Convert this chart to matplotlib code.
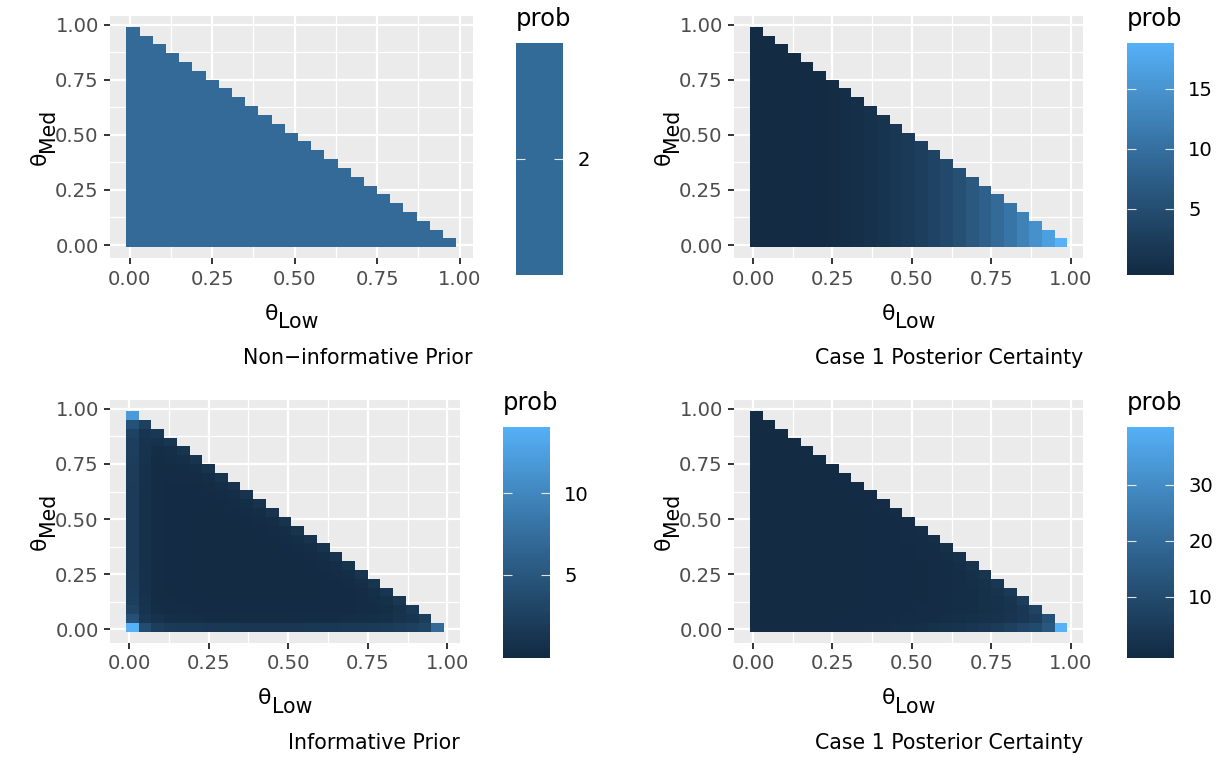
import numpy as np
import matplotlib
matplotlib.use("Agg")
import matplotlib.pyplot as plt
from matplotlib.colors import ListedColormap, Normalize

W, H, DPI = 1223, 758, 100

# ---------------- data ----------------
theta_values = [0.01, 0.05, 0.09, 0.13, 0.17, 0.21, 0.25, 0.29, 0.33, 0.37, 0.41, 0.45, 0.49,
                0.53, 0.57, 0.61, 0.65, 0.69, 0.73, 0.77, 0.81, 0.85, 0.89, 0.93, 0.97]
axis_ticks = [0.0, 0.25, 0.5, 0.75, 1.0]
axis_tick_labels = ["0.00", "0.25", "0.50", "0.75", "1.00"]
axis_minor = [0.125, 0.375, 0.625, 0.875]

# panel 1: flat prior density (same in every cell)
noninf_prior_density = 2.0

# panel 2: posterior, value per theta_Low column (constant along theta_Med)
noninf_post_by_low = [0.0, 0.0, 0.0, 0.0, 0.1, 0.2, 0.3, 0.5, 0.7, 1.0, 1.4, 1.8, 2.4,
                      3.0, 3.7, 4.5, 5.5, 6.6, 7.8, 9.1, 10.6, 12.3, 14.1, 16.1, 18.3]

# panel 3: informative prior, one list per theta_Low column, theta_Med from bottom up
info_prior_cols = [
    [13.7, 4.4, 2.9, 2.5, 2.3, 2.2, 2.2, 2.1, 2.1, 2.1, 2.1, 2.1, 2.1, 2.1, 2.1, 2.1, 2.1, 2.2, 2.2, 2.3, 2.4, 2.5, 2.8, 4.4, 11.5],
    [3.9, 1.6, 1.2, 1.1, 1.0, 1.0, 0.95, 0.95, 0.9, 0.9, 0.9, 0.9, 0.9, 0.9, 0.9, 0.95, 0.95, 1.0, 1.0, 1.05, 1.1, 1.2, 1.4, 2.6],
    [2.3, 1.1, 0.6, 0.55, 0.5, 0.5, 0.45, 0.45, 0.45, 0.45, 0.45, 0.45, 0.45, 0.45, 0.45, 0.45, 0.5, 0.5, 0.5, 0.55, 0.6, 1.0, 1.7],
    [2.0, 0.75, 0.5, 0.45, 0.4, 0.4, 0.35, 0.35, 0.35, 0.35, 0.35, 0.35, 0.35, 0.35, 0.4, 0.4, 0.4, 0.45, 0.5, 0.6, 0.75, 1.5],
    [1.9, 0.65, 0.45, 0.4, 0.35, 0.35, 0.3, 0.3, 0.3, 0.3, 0.3, 0.3, 0.3, 0.35, 0.35, 0.35, 0.4, 0.45, 0.55, 0.7, 1.4],
    [1.8, 0.6, 0.4, 0.35, 0.3, 0.3, 0.3, 0.25, 0.25, 0.25, 0.25, 0.3, 0.3, 0.3, 0.3, 0.35, 0.4, 0.5, 0.65, 1.3],
    [1.75, 0.55, 0.35, 0.3, 0.3, 0.25, 0.25, 0.25, 0.25, 0.25, 0.25, 0.25, 0.3, 0.3, 0.35, 0.4, 0.5, 0.6, 1.3],
    [1.7, 0.55, 0.35, 0.3, 0.25, 0.25, 0.25, 0.25, 0.25, 0.25, 0.25, 0.25, 0.3, 0.3, 0.35, 0.45, 0.6, 1.25],
    [1.7, 0.5, 0.35, 0.3, 0.25, 0.25, 0.25, 0.25, 0.25, 0.25, 0.25, 0.3, 0.3, 0.35, 0.45, 0.6, 1.2],
    [1.65, 0.5, 0.35, 0.3, 0.25, 0.25, 0.25, 0.25, 0.25, 0.25, 0.3, 0.3, 0.35, 0.45, 0.6, 1.2],
    [1.65, 0.5, 0.35, 0.3, 0.25, 0.25, 0.25, 0.25, 0.25, 0.3, 0.3, 0.35, 0.45, 0.6, 1.2],
    [1.65, 0.5, 0.35, 0.3, 0.25, 0.25, 0.25, 0.25, 0.3, 0.3, 0.35, 0.45, 0.6, 1.2],
    [1.65, 0.5, 0.35, 0.3, 0.3, 0.25, 0.25, 0.3, 0.3, 0.35, 0.45, 0.6, 1.2],
    [1.65, 0.5, 0.35, 0.3, 0.3, 0.3, 0.3, 0.3, 0.35, 0.45, 0.6, 1.2],
    [1.7, 0.55, 0.35, 0.3, 0.3, 0.3, 0.3, 0.35, 0.45, 0.6, 1.2],
    [1.7, 0.55, 0.4, 0.35, 0.3, 0.3, 0.35, 0.45, 0.6, 1.25],
    [1.75, 0.55, 0.4, 0.35, 0.35, 0.4, 0.45, 0.6, 1.25],
    [1.8, 0.6, 0.4, 0.4, 0.4, 0.5, 0.65, 1.3],
    [1.85, 0.65, 0.45, 0.45, 0.5, 0.7, 1.35],
    [1.95, 0.7, 0.55, 0.6, 0.75, 1.4],
    [2.1, 0.8, 0.65, 0.8, 1.5],
    [2.3, 1.15, 1.1, 1.65],
    [2.6, 1.4, 1.9],
    [3.0, 2.3],
    [7.0],
]

# panel 4: posterior with informative prior, same layout as panel 3
info_post_cols = [
    [0.0, 0.0, 0.0, 0.0, 0.0, 0.0, 0.0, 0.0, 0.0, 0.0, 0.0, 0.0, 0.0, 0.0, 0.0, 0.0, 0.0, 0.0, 0.0, 0.0, 0.0, 0.0, 0.0, 0.0, 0.0],
    [0.003, 0.001, 0.001, 0.001, 0.001, 0.001, 0.001, 0.001, 0.001, 0.001, 0.001, 0.001, 0.001, 0.001, 0.001, 0.001, 0.001, 0.001, 0.001, 0.001, 0.001, 0.001, 0.001, 0.002],
    [0.010, 0.005, 0.004, 0.003, 0.003, 0.003, 0.003, 0.003, 0.003, 0.003, 0.003, 0.003, 0.003, 0.003, 0.003, 0.003, 0.003, 0.003, 0.003, 0.003, 0.004, 0.005, 0.008],
    [0.027, 0.013, 0.010, 0.009, 0.008, 0.008, 0.007, 0.007, 0.007, 0.007, 0.007, 0.007, 0.007, 0.007, 0.008, 0.008, 0.008, 0.009, 0.010, 0.011, 0.013, 0.020],
    [0.057, 0.026, 0.020, 0.018, 0.017, 0.017, 0.015, 0.015, 0.015, 0.015, 0.015, 0.015, 0.015, 0.017, 0.017, 0.017, 0.018, 0.020, 0.023, 0.027, 0.042],
    [0.10, 0.046, 0.034, 0.031, 0.029, 0.029, 0.029, 0.026, 0.026, 0.026, 0.026, 0.029, 0.029, 0.029, 0.029, 0.031, 0.034, 0.040, 0.048, 0.074],
    [0.17, 0.072, 0.053, 0.048, 0.048, 0.043, 0.043, 0.043, 0.043, 0.043, 0.043, 0.043, 0.048, 0.048, 0.053, 0.058, 0.067, 0.077, 0.125],
    [0.26, 0.11, 0.083, 0.075, 0.068, 0.068, 0.068, 0.068, 0.068, 0.068, 0.068, 0.068, 0.075, 0.075, 0.083, 0.098, 0.12, 0.19],
    [0.38, 0.16, 0.12, 0.11, 0.10, 0.10, 0.10, 0.10, 0.10, 0.10, 0.10, 0.11, 0.11, 0.12, 0.14, 0.18, 0.27],
    [0.52, 0.22, 0.17, 0.16, 0.14, 0.14, 0.14, 0.14, 0.14, 0.14, 0.16, 0.16, 0.17, 0.20, 0.25, 0.38],
    [0.70, 0.30, 0.23, 0.21, 0.19, 0.19, 0.19, 0.19, 0.19, 0.21, 0.21, 0.23, 0.28, 0.34, 0.51],
    [0.93, 0.39, 0.31, 0.28, 0.25, 0.25, 0.25, 0.25, 0.28, 0.28, 0.31, 0.37, 0.45, 0.67],
    [1.2, 0.51, 0.40, 0.36, 0.36, 0.33, 0.33, 0.36, 0.36, 0.40, 0.47, 0.58, 0.87],
    [1.52, 0.64, 0.51, 0.46, 0.46, 0.46, 0.46, 0.46, 0.51, 0.60, 0.74, 1.10],
    [1.94, 0.86, 0.63, 0.57, 0.57, 0.57, 0.57, 0.63, 0.74, 0.91, 1.37],
    [2.38, 1.05, 0.84, 0.77, 0.70, 0.70, 0.77, 0.91, 1.12, 1.75],
    [2.96, 1.27, 1.02, 0.93, 0.93, 1.02, 1.10, 1.36, 2.12],
    [3.65, 1.62, 1.22, 1.22, 1.22, 1.42, 1.72, 2.64],
    [4.44, 2.04, 1.56, 1.56, 1.68, 2.16, 3.24],
    [5.49, 2.54, 2.11, 2.25, 2.68, 3.94],
    [6.89, 3.28, 2.79, 3.28, 4.92],
    [8.5, 4.4, 4.2, 6.0],
    [10.0, 6.0, 7.8],
    [14.0, 12.0],
    [39.4],
]

panel_captions = ["Non\u2212informative Prior", "Case 1 Posterior Certainty",
                  "Informative Prior", "Case 1 Posterior Certainty"]
legend_title = "prob"
legend_ticks = [[2], [5, 10, 15], [5, 10], [10, 20, 30]]
x_title = ("\u03b8", "Low")
y_title = ("\u03b8", "Med")

# ---------------- colour scale (ggplot default, Lab interpolation) ----------------
def _hex(h):
    h = h.lstrip('#')
    return np.array([int(h[i:i + 2], 16) / 255 for i in (0, 2, 4)])

_M = np.array([[0.4124564, 0.3575761, 0.1804375],
               [0.2126729, 0.7151522, 0.0721750],
               [0.0193339, 0.1191920, 0.9503041]])
_WHITE = np.array([0.95047, 1.0, 1.08883])

def _to_lab(rgb):
    lin = np.where(rgb <= 0.04045, rgb / 12.92, ((rgb + 0.055) / 1.055) ** 2.4)
    t = (_M @ lin) / _WHITE
    f = np.where(t > 0.008856, np.cbrt(t), 7.787 * t + 16 / 116)
    return np.array([116 * f[1] - 16, 500 * (f[0] - f[1]), 200 * (f[1] - f[2])])

def _from_lab(lab):
    fy = (lab[..., 0] + 16) / 116
    fx = fy + lab[..., 1] / 500
    fz = fy - lab[..., 2] / 200
    f = np.stack([fx, fy, fz], -1)
    t = np.where(f ** 3 > 0.008856, f ** 3, (f - 16 / 116) / 7.787) * _WHITE
    lin = t @ np.linalg.inv(_M).T
    lin = np.clip(lin, 0, 1)
    rgb = np.where(lin <= 0.0031308, 12.92 * lin, 1.055 * lin ** (1 / 2.4) - 0.055)
    return np.clip(rgb, 0, 1)

_lo, _hi = _to_lab(_hex("#132B43")), _to_lab(_hex("#56B1F7"))
_s = np.linspace(0, 1, 256)[:, None]
gg_cmap = ListedColormap(_from_lab(_lo + (_hi - _lo) * _s))

# ---------------- figure ----------------
plt.rcParams['font.family'] = ['DejaVu Sans']
fig = plt.figure(figsize=(W / DPI, H / DPI), dpi=DPI, facecolor='white')
renderer = fig.canvas.get_renderer()

def rect(x0, y0, x1, y1):
    return [x0 / W, 1 - y1 / H, (x1 - x0) / W, (y1 - y0) / H]

def fpos(x, y):
    return x / W, 1 - y / H

def text_width(s, size):
    t = fig.text(0, 0, s, fontsize=size)
    w = t.get_window_extent(renderer).width
    t.remove()
    return w

n = len(theta_values)
centers = np.array(theta_values)
half = (centers[1] - centers[0]) / 2
edges = np.concatenate([[centers[0] - half], (centers[:-1] + centers[1:]) / 2, [centers[-1] + half]])
span = edges[-1] - edges[0]
lims = (edges[0] - 0.05 * span, edges[-1] + 0.05 * span)

def grid_from_cols(cols):
    Z = np.full((n, n), np.nan)
    for i, col in enumerate(cols):
        Z[:len(col), i] = col
    return Z

grids = [
    grid_from_cols([[noninf_prior_density] * len(c) for c in info_prior_cols]),
    grid_from_cols([[v] * len(c) for v, c in zip(noninf_post_by_low, info_prior_cols)]),
    grid_from_cols(info_prior_cols),
    grid_from_cols(info_post_cols),
]

panels_px = [(110, 15.7, 472.7, 258.3), (734, 15.7, 1083.3, 258.3),
             (110, 400, 460, 642.7), (734, 400, 1083.3, 642.7)]
cbars_px = [(516, 43, 563, 275), (1127, 43, 1174, 275),
            (503, 426.7, 550, 658.3), (1127, 426.7, 1174, 658.3)]

TICK_SIZE = 14.1
TITLE_SIZE = 17.5
MAIN_SIZE = 15.8
SUB_SIZE = 14.8
CAP_SIZE = 14.8

for k in range(4):
    Z = grids[k]
    dmin, dmax = np.nanmin(Z), np.nanmax(Z)
    if dmax > dmin:
        norm = Normalize(dmin, dmax)
        d = (dmax - dmin) / 19
        bar_lo, bar_hi = dmin - d / 2, dmax + d / 2
    else:
        norm = Normalize(dmin - 0.5, dmax + 0.5)
        bar_lo, bar_hi = dmin - 0.5, dmax + 0.5

    x0, y0, x1, y1 = panels_px[k]
    ax = fig.add_axes(rect(x0, y0, x1, y1))
    ax.set_facecolor('#EBEBEB')
    ax.pcolormesh(edges, edges, np.ma.masked_invalid(Z), cmap=gg_cmap, norm=norm,
                  shading='flat', antialiased=False, linewidth=0, zorder=2)
    ax.set_xlim(*lims)
    ax.set_ylim(*lims)
    for sp in ax.spines.values():
        sp.set_visible(False)
    ax.set_xticks(axis_ticks)
    ax.set_xticklabels(axis_tick_labels)
    ax.set_yticks(axis_ticks)
    ax.set_yticklabels(axis_tick_labels)
    ax.set_xticks(axis_minor, minor=True)
    ax.set_yticks(axis_minor, minor=True)
    ax.tick_params(which='major', length=4.5, width=1.4, color='#333333',
                   labelcolor='#4D4D4D', labelsize=TICK_SIZE, pad=3.6)
    ax.tick_params(which='minor', length=0)
    ax.grid(which='major', color='white', linewidth=1.6, zorder=1)
    ax.grid(which='minor', color='white', linewidth=0.9, zorder=1)
    ax.set_axisbelow(True)

    # axis titles: theta with subscript
    cx = (x0 + x1) / 2
    w1 = text_width(x_title[0], MAIN_SIZE)
    w2 = text_width(x_title[1], SUB_SIZE)
    left = cx - (w1 + w2) / 2
    fig.text(*fpos(left, y1 + 61.7), x_title[0], fontsize=MAIN_SIZE, ha='left', va='baseline')
    fig.text(*fpos(left + w1, y1 + 70.0), x_title[1], fontsize=SUB_SIZE, ha='left', va='baseline')

    cy = (y0 + y1) / 2
    w2m = text_width(y_title[1], SUB_SIZE)
    start = cy + (w1 + w2m) / 2
    fig.text(*fpos(x0 - 64, start), y_title[0], fontsize=MAIN_SIZE, rotation=90,
             rotation_mode='anchor', ha='left', va='baseline')
    fig.text(*fpos(x0 - 55.7, start - w1), y_title[1], fontsize=SUB_SIZE, rotation=90,
             rotation_mode='anchor', ha='left', va='baseline')

    # caption
    fig.text(*fpos(x1, y1 + 106), panel_captions[k], fontsize=CAP_SIZE, ha='right', va='baseline')

    # colour bar
    bx0, by0, bx1, by1 = cbars_px[k]
    cax = fig.add_axes(rect(bx0, by0, bx1, by1))
    vals = np.linspace(dmin, dmax, 300)[:, None]
    cax.imshow(vals, origin='lower', extent=(0, 1, bar_lo, bar_hi), aspect='auto',
               cmap=gg_cmap, norm=norm, interpolation='nearest')
    cax.set_xlim(0, 1)
    cax.set_ylim(bar_lo, bar_hi)
    for sp in cax.spines.values():
        sp.set_visible(False)
    cax.set_xticks([])
    cax.yaxis.tick_right()
    cax.set_yticks(legend_ticks[k])
    cax.set_yticklabels([str(t) for t in legend_ticks[k]])
    cax.tick_params(axis='y', length=0, pad=10.3, labelsize=TICK_SIZE, labelcolor='black')
    for t in legend_ticks[k]:
        cax.plot([0, 0.2], [t, t], color='white', lw=0.8, alpha=0.85, solid_capstyle='butt')
        cax.plot([0.8, 1.0], [t, t], color='white', lw=0.8, alpha=0.85, solid_capstyle='butt')
    fig.text(*fpos(bx0, by0 - 16.7), legend_title, fontsize=TITLE_SIZE, ha='left', va='baseline')

fig.savefig("out.png", dpi=DPI, facecolor='white')
